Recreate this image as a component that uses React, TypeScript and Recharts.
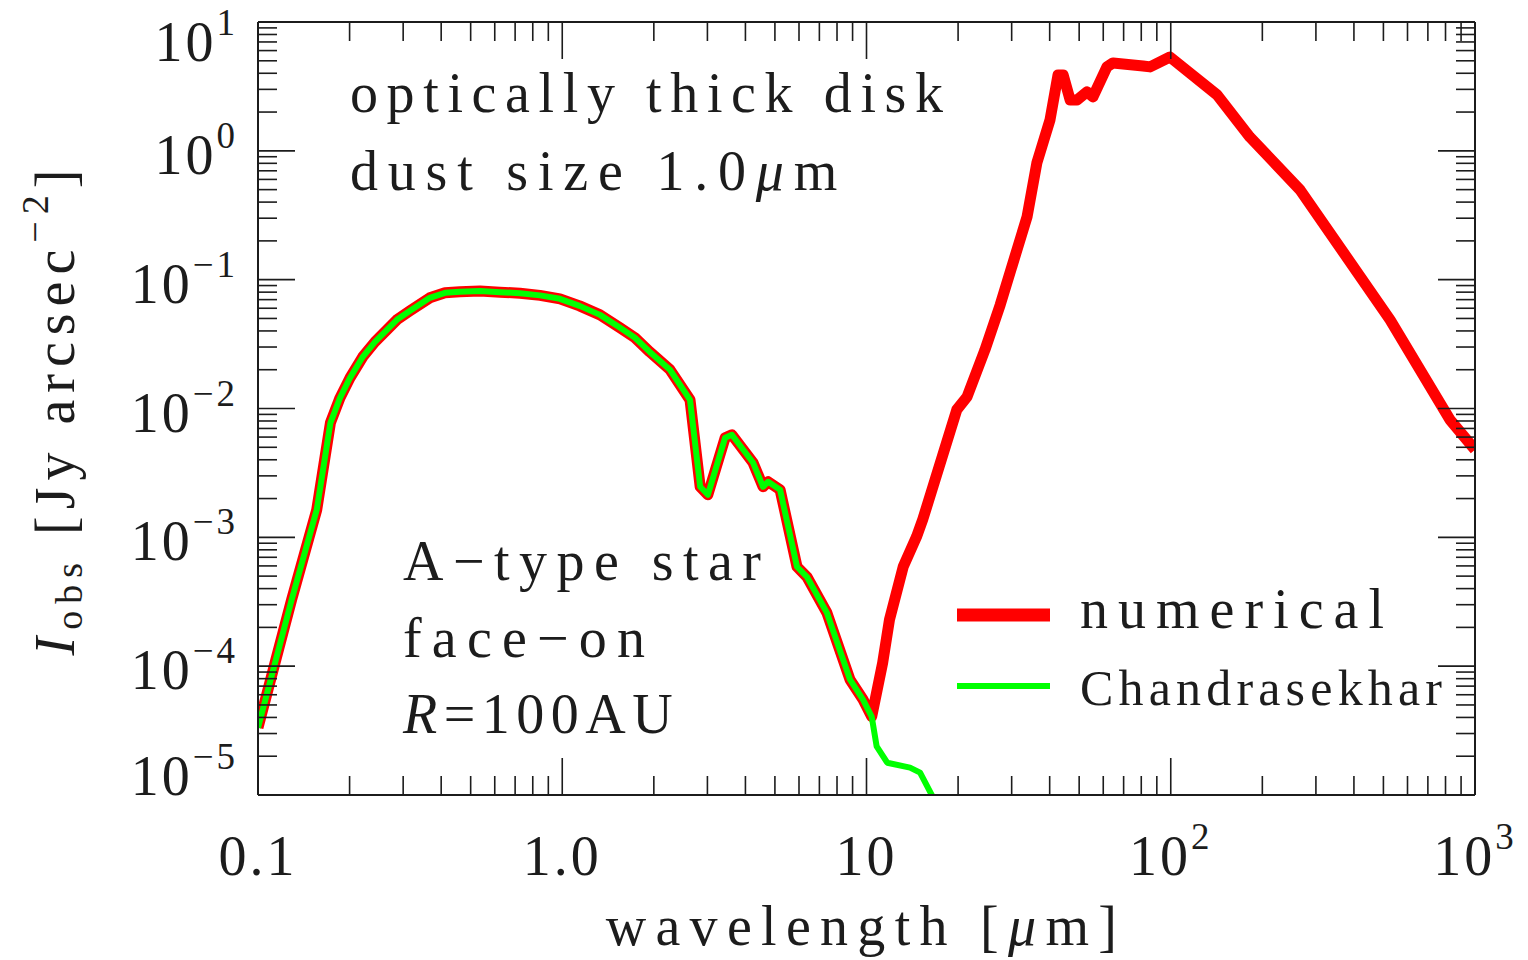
import { LineChart, Line, XAxis, YAxis } from 'recharts';

const FONT = "'Liberation Serif', 'Times New Roman', serif";
const INK = '#1c1c1c';

// stellar part, both curves lie on top of each other (wavelength in um, Jy/arcsec^2)
const starWavelength = [
  0.1, 0.129, 0.156, 0.173, 0.186, 0.2006, 0.221, 0.2424, 0.286, 0.316, 0.367, 0.4117, 0.461,
  0.5367, 0.624, 0.7264, 0.845, 0.983, 1.14, 1.331, 1.55, 1.734, 1.94, 2.26, 2.63, 2.84, 3.01,
  3.43, 3.61, 4.24, 4.57, 4.75, 5.2, 5.91, 6.37, 7.41, 8.83, 9.74, 10.4,
];
const starIntensity = [
  3.33e-5, 3.28e-4, 1.64e-3, 7.74e-3, 0.0121, 0.0173, 0.0252, 0.0329, 0.0488, 0.0573, 0.0723,
  0.0791, 0.0806, 0.0816, 0.08, 0.0785, 0.0755, 0.071, 0.0626, 0.0533, 0.0423, 0.0354, 0.0275,
  0.02, 0.01167, 2.47e-3, 2.14e-3, 5.93e-3, 6.25e-3, 3.79e-3, 2.47e-3, 2.7e-3, 2.34e-3, 5.91e-4,
  4.94e-4, 2.6e-4, 7.85e-5, 5.5e-5, 4.06e-5,
];

// thermal dust emission, numerical curve only
const dustWavelength = [
  11.3, 11.9, 13.2, 14.6, 15.3, 19.8, 21.4, 24.5, 27.5, 33.7, 36.3, 40.1, 42.6, 44.3, 46.7, 49.2,
  53.1, 55.5, 61.7, 64.6, 81.1, 85.5, 99.4, 142, 182, 266, 526, 828, 1000,
];
const dustIntensity = [
  1.06e-4, 2.3e-4, 5.91e-4, 1.01e-3, 1.37e-3, 9.77e-3, 0.0123, 0.0285, 0.0637, 0.307, 0.805, 1.74,
  3.88, 3.88, 2.48, 2.48, 2.87, 2.62, 4.48, 4.81, 4.56, 4.48, 5.35, 2.72, 1.28, 0.498, 0.0488,
  8.16e-3, 4.79e-3,
];

// Chandrasekhar tail past 10 um (runs off the bottom)
const tailWavelength = [10.8, 11.7, 13.9, 15.0, 16.5, 17.4];
const tailIntensity = [2.38e-5, 1.78e-5, 1.63e-5, 1.49e-5, 9.7e-6, 7.8e-6];

// axes
const xDecades = [0.1, 1, 10, 100, 1000];
const xLabelBase = ['0.1', '1.0', '10', '10', '10'];
const xLabelExp = ['', '', '', '2', '3'];
const yDecades = [1e-5, 1e-4, 1e-3, 1e-2, 1e-1, 1, 10];
const yLabelExp = ['\u22125', '\u22124', '\u22123', '\u22122', '\u22121', '0', '1'];
const minorSteps = [2, 3, 4, 5, 6, 7, 8, 9];

const withMinor = (decades: number[]) => {
  const out: number[] = [];
  decades.forEach((d, i) => {
    out.push(d);
    if (i < decades.length - 1) minorSteps.forEach((m) => out.push(d * m));
  });
  return out;
};
const xTicks = withMinor(xDecades);
const yTicks = withMinor(yDecades);

const toPoints = (xs: number[], ys: number[]) => xs.map((x, i) => ({ x, y: ys[i] }));
const numerical = [...toPoints(starWavelength, starIntensity), ...toPoints(dustWavelength, dustIntensity)];
const chandrasekhar = [...toPoints(starWavelength, starIntensity), ...toPoints(tailWavelength, tailIntensity)];

const MAJOR = 37;
const MINOR = 19;
const TICK_FONT = 56;
const SUP_FONT = 37;

const decadeIndex = (list: number[], v: number) => list.findIndex((d) => Math.abs(d - v) / d < 1e-6);

function BottomTick({ x, y, payload }: any) {
  const i = decadeIndex(xDecades, payload.value);
  const len = i >= 0 ? MAJOR : MINOR;
  return (
    <g>
      <line x1={x} y1={y} x2={x} y2={y - len} stroke={INK} strokeWidth={1.6} />
      {i >= 0 && (
        <text x={x} y={y + 80} textAnchor="middle" style={{ fontFamily: FONT }} fontSize={TICK_FONT} fill={INK} letterSpacing={3}>
          {xLabelBase[i]}
          {xLabelExp[i] && (
            <tspan fontSize={SUP_FONT} dy={-26}>
              {xLabelExp[i]}
            </tspan>
          )}
        </text>
      )}
    </g>
  );
}

function TopTick({ x, y, payload }: any) {
  const len = decadeIndex(xDecades, payload.value) >= 0 ? MAJOR : MINOR;
  return <line x1={x} y1={y} x2={x} y2={y + len} stroke={INK} strokeWidth={1.6} />;
}

function LeftTick({ x, y, payload }: any) {
  const i = decadeIndex(yDecades, payload.value);
  const len = i >= 0 ? MAJOR : MINOR;
  // end labels are nudged inside the frame like in the original
  const dy = i === yDecades.length - 1 ? 39 : i === 0 ? 0 : 23;
  return (
    <g>
      <line x1={x} y1={y} x2={x + len} y2={y} stroke={INK} strokeWidth={1.6} />
      {i >= 0 && (
        <text x={x - 20} y={y + dy} textAnchor="end" style={{ fontFamily: FONT }} fontSize={TICK_FONT} fill={INK} letterSpacing={3}>
          10
          <tspan fontSize={SUP_FONT} dy={-26}>
            {yLabelExp[i]}
          </tspan>
        </text>
      )}
    </g>
  );
}

function RightTick({ x, y, payload }: any) {
  const len = decadeIndex(yDecades, payload.value) >= 0 ? MAJOR : MINOR;
  return <line x1={x} y1={y} x2={x - len} y2={y} stroke={INK} strokeWidth={1.6} />;
}

const axisLine = { stroke: INK, strokeWidth: 2 };
const textProps = { style: { fontFamily: FONT }, fill: INK, fontSize: 56 };

export default function App() {
  return (
    <div style={{ position: 'absolute', left: 0, top: 0, width: 1528, height: 960, background: '#fff' }}>
      <LineChart width={1528} height={960} margin={{ top: 2, right: 33, bottom: 85, left: 198 }}>
        <XAxis
          xAxisId="b"
          type="number"
          dataKey="x"
          scale="log"
          domain={[0.1, 1000]}
          allowDataOverflow
          ticks={xTicks}
          interval={0}
          tick={BottomTick}
          tickSize={0}
          tickMargin={0}
          height={80}
          axisLine={axisLine}
        />
        <XAxis
          xAxisId="t"
          orientation="top"
          type="number"
          dataKey="x"
          scale="log"
          domain={[0.1, 1000]}
          allowDataOverflow
          ticks={xTicks}
          interval={0}
          tick={TopTick}
          tickSize={0}
          tickMargin={0}
          height={20}
          axisLine={axisLine}
        />
        <YAxis
          yAxisId="l"
          type="number"
          scale="log"
          domain={[1e-5, 10]}
          allowDataOverflow
          ticks={yTicks}
          interval={0}
          tick={LeftTick}
          tickSize={0}
          tickMargin={0}
          width={60}
          axisLine={axisLine}
        />
        <YAxis
          yAxisId="r"
          orientation="right"
          type="number"
          scale="log"
          domain={[1e-5, 10]}
          allowDataOverflow
          ticks={yTicks}
          interval={0}
          tick={RightTick}
          tickSize={0}
          tickMargin={0}
          width={20}
          axisLine={axisLine}
        />
        <Line
          xAxisId="b"
          yAxisId="l"
          data={numerical}
          dataKey="y"
          stroke="#ff0000"
          strokeWidth={11}
          strokeLinejoin="round"
          dot={false}
          activeDot={false}
          isAnimationActive={false}
        />
        <Line
          xAxisId="b"
          yAxisId="l"
          data={chandrasekhar}
          dataKey="y"
          stroke="#00ff00"
          strokeWidth={6}
          strokeLinejoin="round"
          dot={false}
          activeDot={false}
          isAnimationActive={false}
        />
      </LineChart>

      <svg width={1528} height={960} style={{ position: 'absolute', left: 0, top: 0, pointerEvents: 'none' }}>
        <text {...textProps} x={350} y={112} textLength={593} lengthAdjust="spacing">
          optically thick disk
        </text>
        <text {...textProps} x={350} y={190} letterSpacing={9.8}>
          dust size 1.0<tspan fontStyle="italic">μ</tspan>m
        </text>
        <text {...textProps} x={403} y={580} textLength={358} lengthAdjust="spacing">
          A{'\u2212'}type star
        </text>
        <text {...textProps} x={403} y={657} textLength={242} lengthAdjust="spacing">
          face{'\u2212'}on
        </text>
        <text {...textProps} x={403} y={733} letterSpacing={6.5}>
          <tspan fontStyle="italic">R</tspan>=100AU
        </text>

        <line x1={957} y1={615} x2={1050} y2={615} stroke="#ff0000" strokeWidth={13} />
        <text {...textProps} x={1080} y={628} textLength={304} lengthAdjust="spacing">
          numerical
        </text>
        <line x1={957} y1={686} x2={1050} y2={686} stroke="#00ff00" strokeWidth={6} />
        <text {...textProps} fontSize={50} x={1080} y={705} textLength={362} lengthAdjust="spacing">
          Chandrasekhar
        </text>

        <text {...textProps} x={866} y={945} textAnchor="middle" letterSpacing={9.3}>
          wavelength [<tspan fontStyle="italic">μ</tspan>m]
        </text>
        <text {...textProps} transform="translate(74,409) rotate(-90)" textAnchor="middle" letterSpacing={7}>
          <tspan fontStyle="italic">I</tspan>
          <tspan fontSize={38} dy={8}>obs</tspan>
          <tspan dy={-8}> [Jy arcsec</tspan>
          <tspan fontSize={38} dy={-26}>{'\u2212'}2</tspan>
          <tspan dy={26}>]</tspan>
        </text>
      </svg>
    </div>
  );
}
